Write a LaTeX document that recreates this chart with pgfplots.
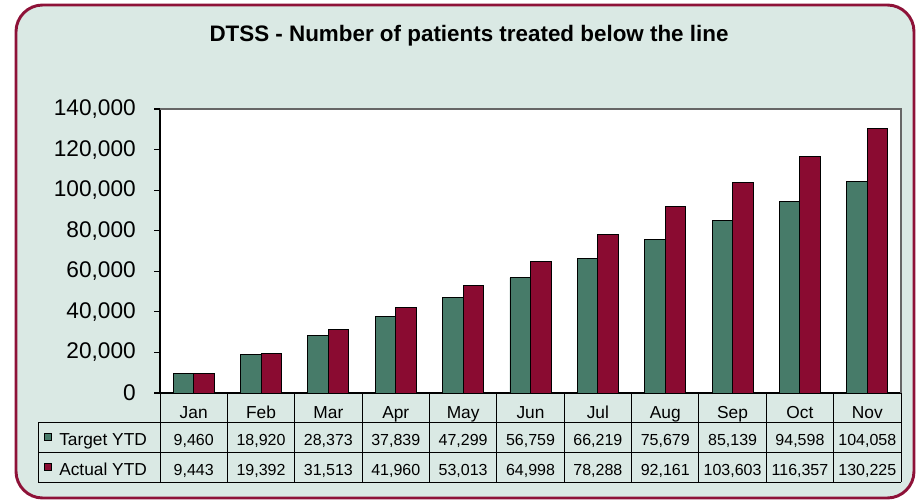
\documentclass[border=0pt]{standalone}
\usepackage{pgfplots}
\pgfplotsset{compat=1.18}
\usepackage{fontspec}
\setmainfont{Liberation Sans}
\definecolor{bg}{HTML}{DAE9E4}
\definecolor{frame}{HTML}{8E1238}
\definecolor{tgt}{HTML}{477B69}
\definecolor{act}{HTML}{8A0B31}
\begin{document}
\begin{tikzpicture}
\begin{scope}[x=0.75pt,y=-0.75pt]
\path (0,0) rectangle (920,503);
\draw[frame, line width=2.2pt, fill=bg, rounded corners=20pt] (16,5) rectangle (914,498);
\fill[white] (160,109) rectangle (901,393);
\node[anchor=base, font=\bfseries\fontsize{16.8}{19}\selectfont] at (469,42) {DTSS - Number of patients treated below the line};
\end{scope}
\begin{axis}[
  at={(120pt,-294.75pt)}, anchor=south west,
  scale only axis, width=555.75pt, height=213pt,
  ybar=0pt, bar width=15.4pt,
  xmin=-0.5, xmax=10.5, ymin=0, ymax=140000,
  axis lines*=left, axis line style={black, line width=0.8pt},
  ytick={0,20000,...,140000},
  scaled y ticks=false,
  /pgf/number format/.cd, fixed, 1000 sep={,}, assume math mode=true,
  /pgfplots/.cd,
  tick align=outside, major tick length=4.5pt,
  ytick style={black, line width=0.8pt},
  yticklabel style={font=\fontsize{17}{20}\selectfont, anchor=east, inner sep=0pt, xshift=-13.5pt},
  xtick={0,...,10},
  xticklabels={Jan,Feb,Mar,Apr,May,Jun,Jul,Aug,Sep,Oct,Nov},
  xtick style={draw=none},
  xticklabel style={font=\fontsize{13}{15}\selectfont, anchor=base, inner sep=0pt, yshift=-14.25pt},
  clip=false,
]
\addplot[fill=tgt, draw=black, line width=0.7pt] coordinates {
(0,9460) (1,18920) (2,28373) (3,37839) (4,47299) (5,56759) (6,66219) (7,75679) (8,85139) (9,94598) (10,104058)};
\addplot[fill=act, draw=black, line width=0.7pt] coordinates {
(0,9443) (1,19392) (2,31513) (3,41960) (4,53013) (5,64998) (6,78288) (7,92161) (8,103603) (9,116357) (10,130225)};
\end{axis}
\begin{scope}[x=0.75pt,y=-0.75pt]
\draw[gray!80!black, line width=1.4pt] (160,109) -- (901,109) -- (901,393);
\draw[black, line width=0.7pt] (38,422) -- (901,422) (38,452) -- (901,452) (38,482) -- (901,482) (38,422) -- (38,482) (901,393) -- (901,482);
\foreach \k in {0,...,10} \draw[black, line width=0.7pt] ({160+\k*741/11},393) -- ({160+\k*741/11},482);
\fill[tgt, draw=black, line width=0.6pt] (44,433) rectangle (51.5,440.5);
\fill[act, draw=black, line width=0.6pt] (44,463) rectangle (51.5,470.5);
\node[anchor=base west, inner sep=0pt, font=\fontsize{13}{15}\selectfont] at (59,445) {Target YTD};
\node[anchor=base west, inner sep=0pt, font=\fontsize{13}{15}\selectfont] at (59,475) {Actual YTD};
\foreach \v [count=\i from 0] in {{9,460},{18,920},{28,373},{37,839},{47,299},{56,759},{66,219},{75,679},{85,139},{94,598},{104,058}}
  \node[anchor=base, inner sep=0pt, font=\fontsize{12}{14}\selectfont] at ({160+(\i+0.5)*741/11},445) {\v};
\foreach \v [count=\i from 0] in {{9,443},{19,392},{31,513},{41,960},{53,013},{64,998},{78,288},{92,161},{103,603},{116,357},{130,225}}
  \node[anchor=base, inner sep=0pt, font=\fontsize{12}{14}\selectfont] at ({160+(\i+0.5)*741/11},475) {\v};
\end{scope}
\end{tikzpicture}
\end{document}
